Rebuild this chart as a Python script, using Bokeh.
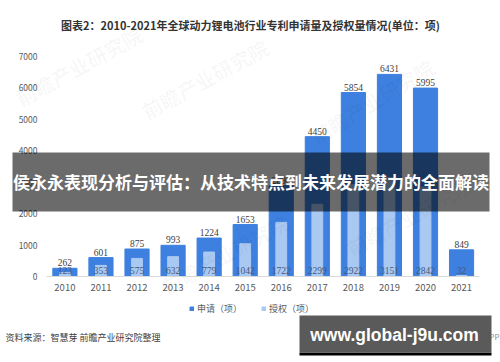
from bokeh.plotting import figure
from bokeh.models import (ColumnDataSource, Range1d, LabelSet, Label,
                          BoxAnnotation, Legend, LegendItem, LinearAxis, FixedTicker)
from bokeh.embed import file_html
from bokeh.resources import INLINE

years = [2010, 2011, 2012, 2013, 2014, 2015, 2016, 2017, 2018, 2019, 2020, 2021]
applications = [262, 601, 875, 993, 1224, 1653, 2890, 4450, 5854, 6431, 5995, 849]
grants = [123, 353, 575, 632, 779, 1042, 1722, 2299, 2922, 3151, 2842, 32]
y_ticks = [0, 1000, 2000, 3000, 4000, 5000, 6000, 7000]

title_text = "图表2：2010-2021年全球动力锂电池行业专利申请量及授权量情况(单位：项)"
banner_text = "侯永永表现分析与评估：从技术特点到未来发展潜力的全面解读"
source_text = "资料来源：智慧芽 前瞻产业研究院整理"
url_text = "www.global-j9u.com"
app_text = "前瞻经济学人APP"
watermark_text = "前瞻产业研究院"
legend_labels = ["申请（项）", "授权（项）"]

CJK = "Noto Sans CJK SC"
APP_COLOR = "#3d80e0"
GRANT_COLOR = "#aac9f2"

# ---- layout (pixels) ----
W, H = 500, 362
X0_PX = 64.4          # px centre of first category
BAND = 36.06          # px per category
Y0_PX = 276.0         # px (from top) of value 0
PX_PER_UNIT = 220.0 / 7000.0

x_start = years[0] - X0_PX / BAND
x_end = x_start + W / BAND
y_start = -(H - Y0_PX) / PX_PER_UNIT
y_end = y_start + H / PX_PER_UNIT


def sx(px):
    return px


def sy(py):
    return H - py


src = ColumnDataSource(dict(year=years, app=applications, grant=grants,
                            app_lbl=[str(v) for v in applications],
                            grant_lbl=[str(v) for v in grants],
                            base=[0] * len(years)))

p = figure(title=None, x_range=Range1d(x_start, x_end), y_range=Range1d(y_start, y_end),
           width=W, height=H, output_backend="svg", toolbar_location=None,
           min_border=0, min_border_left=0, min_border_right=0,
           min_border_top=0, min_border_bottom=0,
           x_axis_location=None, y_axis_location=None)
p.outline_line_color = None
p.background_fill_color = "white"
p.border_fill_color = "white"
p.xgrid.visible = False
p.ygrid.visible = False

# watermarks (faint)
for (wx, wy, ang) in [(24, 112, 0.5), (150, 125, 0.5), (320, 150, 0.55),
                      (170, 300, 0.5), (355, 262, 0.5)]:
    p.add_layout(Label(x=sx(wx), y=sy(wy), x_units="screen", y_units="screen",
                       text=watermark_text, angle=ang, text_font=CJK,
                       text_font_size="20px", text_font_style="bold",
                       text_color="#000000", text_alpha=0.035))

r_app = p.vbar(x="year", top="app", width=0.67, source=src, color=APP_COLOR)
r_grant = p.vbar(x="year", top="grant", width=0.3, source=src, color=GRANT_COLOR)

yaxis = LinearAxis(ticker=FixedTicker(ticks=y_ticks),
                   fixed_location=x_start + 47 / BAND)
yaxis.axis_line_color = None
yaxis.major_tick_line_color = None
yaxis.minor_tick_line_color = None
yaxis.major_label_text_font = CJK
yaxis.major_label_text_font_size = "8.5px"
yaxis.major_label_text_color = "#595959"
yaxis.major_label_standoff = 4
p.add_layout(yaxis, "left")

xaxis = LinearAxis(ticker=FixedTicker(ticks=years), fixed_location=0,
                   bounds=(years[0] - 0.5, years[-1] + 0.5))
xaxis.axis_line_color = "#d9d9d9"
xaxis.major_tick_line_color = None
xaxis.minor_tick_line_color = None
xaxis.major_label_text_font = CJK
xaxis.major_label_text_font_size = "9.5px"
xaxis.major_label_text_color = "#595959"
xaxis.major_label_standoff = 1
p.add_layout(xaxis, "below")

p.add_layout(LabelSet(x="year", y="app", text="app_lbl", source=src, y_offset=2,
                      text_align="center", text_baseline="bottom", text_font=CJK,
                      text_font_size="9.5px", text_color="#404040"))
p.add_layout(LabelSet(x="year", y="base", text="grant_lbl", source=src, y_offset=3,
                      text_align="center", text_baseline="bottom", text_font=CJK,
                      text_font_size="9.5px", text_color="#46587a"))

legend = Legend(items=[LegendItem(label=legend_labels[0], renderers=[r_app]),
                       LegendItem(label=legend_labels[1], renderers=[r_grant])],
                location=(sx(189), sy(315)), orientation="horizontal",
                glyph_width=5, glyph_height=5, spacing=19, padding=0, margin=0,
                label_text_font=CJK, label_text_font_size="9px",
                label_text_color="#595959", label_standoff=3,
                background_fill_alpha=0, border_line_color=None)
p.add_layout(legend, "center")

# title
p.add_layout(Label(x=sx(250), y=sy(24), x_units="screen", y_units="screen", text=title_text,
                   text_align="center", text_baseline="middle", text_font=CJK,
                   text_font_size="11px", text_font_style="bold", text_color="#333333"))

# source
p.add_layout(Label(x=sx(5), y=sy(337), x_units="screen", y_units="screen", text=source_text,
                   text_align="left", text_baseline="middle", text_font=CJK,
                   text_font_size="9px", text_color="#404040"))
p.add_layout(Label(x=sx(499), y=sy(336), x_units="screen", y_units="screen", text=app_text,
                   text_align="right", text_baseline="middle", text_font=CJK,
                   text_font_size="8px", text_color="#8c8c8c"))

# banner overlay
p.add_layout(BoxAnnotation(left=sx(12), right=sx(489), bottom=sy(211), top=sy(152),
                           left_units="screen", right_units="screen",
                           bottom_units="screen", top_units="screen",
                           fill_color="#000000", fill_alpha=0.58, line_color=None))
p.add_layout(Label(x=sx(250.5), y=sy(181), x_units="screen", y_units="screen", text=banner_text,
                   text_align="center", text_baseline="middle", text_font=CJK,
                   text_font_size="17px", text_font_style="bold", text_color="white"))

# url box
p.add_layout(BoxAnnotation(left=sx(299), right=sx(491), bottom=sy(355), top=sy(352),
                           left_units="screen", right_units="screen",
                           bottom_units="screen", top_units="screen",
                           fill_color="#000000", fill_alpha=1.0, line_color=None))
p.add_layout(BoxAnnotation(left=sx(299), right=sx(491), bottom=sy(352), top=sy(315),
                           left_units="screen", right_units="screen",
                           bottom_units="screen", top_units="screen",
                           fill_color="#5a5a5a", fill_alpha=1.0, line_color=None))
p.add_layout(Label(x=sx(394), y=sy(334), x_units="screen", y_units="screen", text=url_text,
                   text_align="center", text_baseline="middle", text_font="Liberation Sans",
                   text_font_size="17.5px", text_font_style="bold", text_color="white"))

open("out.html", "w").write(file_html(p, INLINE))
